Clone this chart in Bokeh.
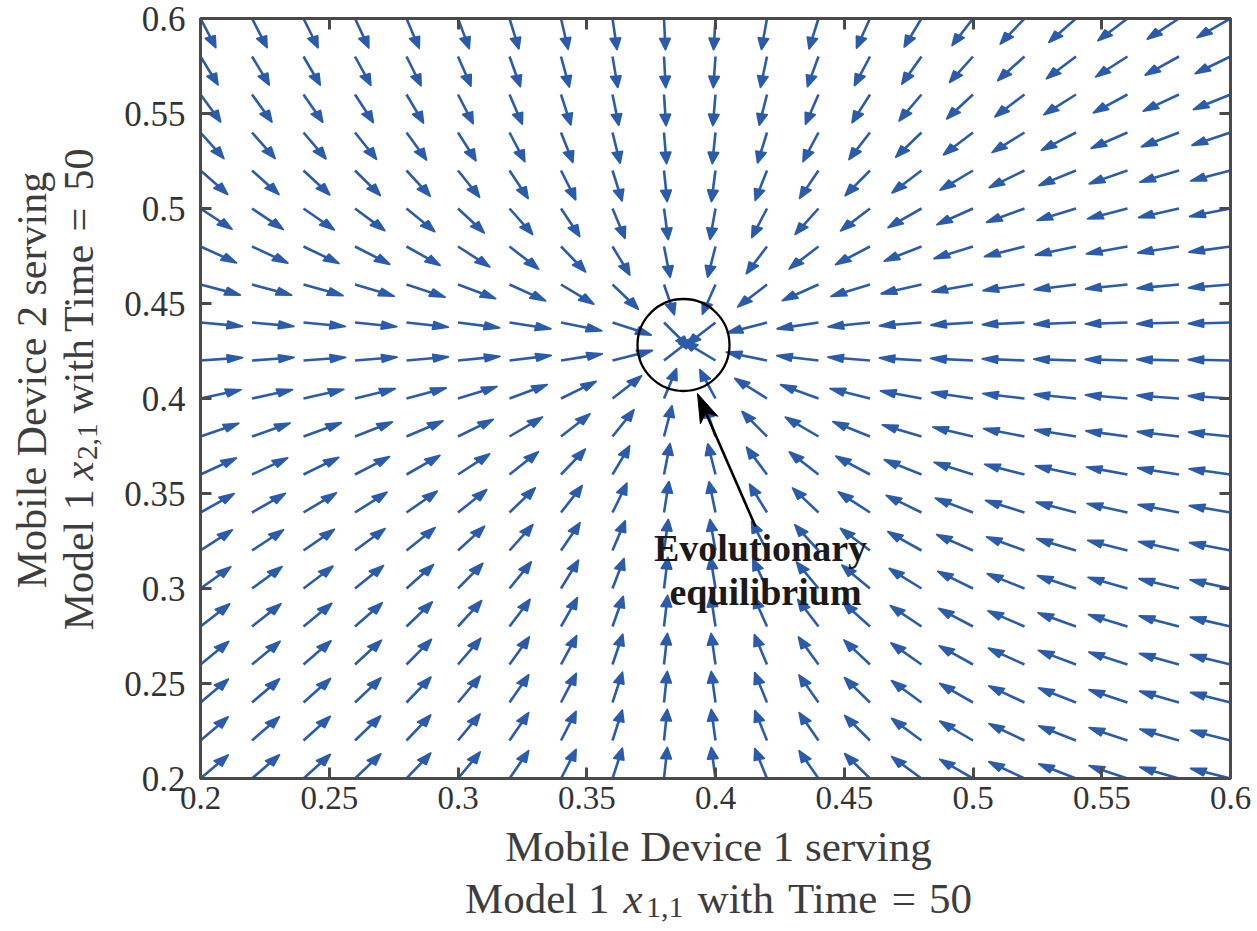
import numpy as np
from bokeh.plotting import figure
from bokeh.layouts import column, row
from bokeh.models import Range1d, LinearAxis, FixedTicker, Label
from bokeh.core.properties import value
from bokeh.embed import file_html
from bokeh.resources import INLINE

# ---- data -------------------------------------------------------------
# sampling grid of the two strategy shares
x11_grid = [0.20, 0.22, 0.24, 0.26, 0.28, 0.30, 0.32, 0.34, 0.36, 0.38, 0.40,
            0.42, 0.44, 0.46, 0.48, 0.50, 0.52, 0.54, 0.56, 0.58, 0.60]
x21_grid = [0.20, 0.22, 0.24, 0.26, 0.28, 0.30, 0.32, 0.34, 0.36, 0.38, 0.40,
            0.42, 0.44, 0.46, 0.48, 0.50, 0.52, 0.54, 0.56, 0.58, 0.60]

# evolutionary equilibrium (x_{1,1}, x_{2,1}) and relative adjustment speeds
equilibrium = [0.389, 0.429]
adjust_speed = [1.0, 0.95]

tick_values = [0.2, 0.25, 0.3, 0.35, 0.4, 0.45, 0.5, 0.55, 0.6]
tick_labels = ["0.2", "0.25", "0.3", "0.35", "0.4", "0.45", "0.5", "0.55", "0.6"]

# ---- page geometry (pixels) ------------------------------------------
W, H = 1257, 931
YT_W = 110            # strip holding the rotated y title
MAIN_H = 824          # height of the chart panel; x title strip below
FL, FR, FT, FB = 200, 1230, 18, 778
XMIN, XMAX, YMIN, YMAX = 0.2, 0.6, 0.2, 0.6
SX = (FR - FL) / (XMAX - XMIN)
SY = (FB - FT) / (YMAX - YMIN)


def dx(px):
    return XMIN + (px - FL) / SX


def dy(py):
    return YMAX - (py - FT) / SY


BLUE = "#2b5cab"
FRAME = "#4a4a4a"
SERIF = "Liberation Serif"
TITLE_COLOR = "#3d3d3d"

p = figure(width=W - YT_W, height=MAIN_H, output_backend="svg",
           toolbar_location=None, title=None,
           x_range=Range1d(XMIN, XMAX), y_range=Range1d(YMIN, YMAX),
           min_border_left=FL - YT_W, min_border_right=W - FR,
           min_border_top=FT, min_border_bottom=MAIN_H - FB,
           background_fill_color="white", border_fill_color="white")
p.grid.visible = False
p.outline_line_color = FRAME
p.outline_line_width = 3

# ---- direction field --------------------------------------------------
X, Y = np.meshgrid(np.array(x11_grid), np.array(x21_grid))
U = adjust_speed[0] * X * (equilibrium[0] - X)
V = adjust_speed[1] * Y * (equilibrium[1] - Y)
mag = np.hypot(U, V)
mag[mag == 0] = 1.0
L = 0.0164
u = U / mag * L
v = V / mag * L

tx, ty = X + u, Y + v
a, b = 0.36, 0.34
p.segment(x0=X.ravel(), y0=Y.ravel(),
          x1=(tx - 0.5 * a * u).ravel(), y1=(ty - 0.5 * a * v).ravel(),
          line_color=BLUE, line_width=2.6)

bx1 = tx - a * (u + b * v)
by1 = ty - a * (v - b * u)
bx2 = tx - a * (u - b * v)
by2 = ty - a * (v + b * u)
hx = [[x1, x2, x3] for x1, x2, x3 in zip(tx.ravel(), bx1.ravel(), bx2.ravel())]
hy = [[y1, y2, y3] for y1, y2, y3 in zip(ty.ravel(), by1.ravel(), by2.ravel())]
p.patches(xs=hx, ys=hy, fill_color=BLUE, line_color=BLUE, line_width=1.8,
          line_join="round")

# ---- equilibrium marker and annotation -------------------------------
p.scatter(x=[dx(683)], y=[dy(344.5)], marker="circle", size=92,
          fill_color=None, line_color="black", line_width=2.3)

tail = np.array([755.0, 526.0])
tip = np.array([697.0, 393.0])
d = (tip - tail) / np.hypot(*(tip - tail))
n = np.array([-d[1], d[0]])
back = tip - d * 29
notch = tip - d * 21
hl = back + n * 9.5
hr = back - n * 9.5
p.segment(x0=[dx(tail[0])], y0=[dy(tail[1])], x1=[dx(notch[0])], y1=[dy(notch[1])],
          line_color="black", line_width=2.6)
p.patch(x=[dx(tip[0]), dx(hl[0]), dx(notch[0]), dx(hr[0])],
        y=[dy(tip[1]), dy(hl[1]), dy(notch[1]), dy(hr[1])],
        fill_color="black", line_color="black", line_width=1)

for txt, cx, by in [("Evolutionary", 760, 547), ("equilibrium", 765, 591)]:
    p.add_layout(Label(x=dx(cx), y=dy(by), text=txt, text_font=SERIF,
                       text_font_size="38px", text_font_style="bold",
                       text_color="#1a1a1a", text_align="center",
                       text_baseline="alphabetic"))

# ---- axes (box with inward ticks on all four sides) ------------------
ticker = FixedTicker(ticks=tick_values)


def style_axis(ax, labels, size, standoff):
    ax.ticker = ticker
    ax.major_label_overrides = {v: s for v, s in zip(tick_values, labels)}
    ax.axis_line_color = FRAME
    ax.axis_line_width = 3
    ax.major_tick_line_color = FRAME
    ax.major_tick_line_width = 3
    ax.major_tick_in = 11
    ax.major_tick_out = 0
    ax.minor_tick_line_color = None
    ax.major_label_text_font = SERIF
    ax.major_label_text_color = "#333333"
    ax.major_label_standoff = standoff
    ax.major_label_text_font_size = size


blank = [""] * len(tick_values)
style_axis(p.xaxis[0], tick_labels, "33px", 8)
style_axis(p.yaxis[0], tick_labels, "35px", 15)
top_ax = LinearAxis()
right_ax = LinearAxis()
style_axis(top_ax, blank, "10px", 0)
style_axis(right_ax, blank, "10px", 0)
p.add_layout(top_ax, "above")
p.add_layout(right_ax, "right")


# ---- axis title strips -----------------------------------------------
def text_strip(width, height):
    f = figure(width=width, height=height, output_backend="svg",
               toolbar_location=None, title=None, x_range=Range1d(0, width),
               y_range=Range1d(0, height), x_axis_type=None, y_axis_type=None,
               min_border=0, outline_line_color=None)
    f.grid.visible = False
    return f


ADV = {"M": 889, "o": 500, "d": 500, "e": 444, "l": 278, " ": 250, "1": 500,
       "2": 500, "w": 722, "i": 278, "t": 278, "h": 500, "T": 611, "m": 778,
       "=": 564, "5": 500, "0": 500, ",": 250}
ITALIC_X = 500


def text_w(s, size):
    return sum(ADV[c] for c in s) * size / 1000.0


def line2_pieces(sub, size, x_gap, eq_gap):
    k = size / 43.0
    sub_size = size * 0.70
    # (text, style, font size, baseline shift, gap before)
    return [("Model 1", "normal", size, 0, 0),
            ("x", "italic", size, 0, x_gap * k),
            (sub, "normal", sub_size, 9 * k, 1 * k),
            ("with", "normal", size, 0, 14 * k),
            ("Time", "normal", size, 0, 14 * k),
            ("=", "normal", size, 0, eq_gap * k),
            ("50", "normal", size, 0, eq_gap * k)]


def piece_w(s, style, size):
    return ITALIC_X * size / 1000.0 if style == "italic" else text_w(s, size)


def place_pieces(fig, pieces, center, base, horizontal, to_x, to_y):
    total = sum(g + piece_w(s, st, fs) for s, st, fs, _, g in pieces)
    pos = center - total / 2.0 if horizontal else center + total / 2.0
    for s, st, fs, shift, g in pieces:
        pos = pos + g if horizontal else pos - g
        if horizontal:
            x, y, ang = to_x(pos), to_y(base + shift), 0.0
        else:
            x, y, ang = to_x(base + shift), to_y(pos), np.pi / 2
        fig.text(x=[x], y=[y], text=[s], angle=ang, text_font=value(SERIF),
                 text_font_size=f"{fs:.1f}px", text_font_style=st,
                 text_color=TITLE_COLOR, text_align="left",
                 text_baseline="alphabetic")
        w = piece_w(s, st, fs)
        pos = pos + w if horizontal else pos - w


# y title: strip to the left of the chart, canvas pixels -> strip coords
ys = text_strip(YT_W, MAIN_H)
ys.text(x=[31], y=[MAIN_H - 392], text=["Mobile Device 2 serving"],
        angle=np.pi / 2, text_font=value(SERIF), text_font_size="42px",
        text_color=TITLE_COLOR, text_align="center", text_baseline="alphabetic")
place_pieces(ys, line2_pieces("2,1", 42, 22, 21), 404, 78, False,
             lambda px: px, lambda py: MAIN_H - py)

# x title: strip below the chart
XS_H = H - MAIN_H
xs = text_strip(W, XS_H)
xs.text(x=[718], y=[H - 846], text=["Mobile Device 1 serving"],
        text_font=value(SERIF), text_font_size="43px",
        text_color=TITLE_COLOR, text_align="center", text_baseline="alphabetic")
place_pieces(xs, line2_pieces("1,1", 43, 14, 13), 718, 898, True,
             lambda px: px, lambda py: H - py)

layout = column(row(ys, p, spacing=0), xs, spacing=0)
open("out.html", "w").write(file_html(layout, INLINE))
